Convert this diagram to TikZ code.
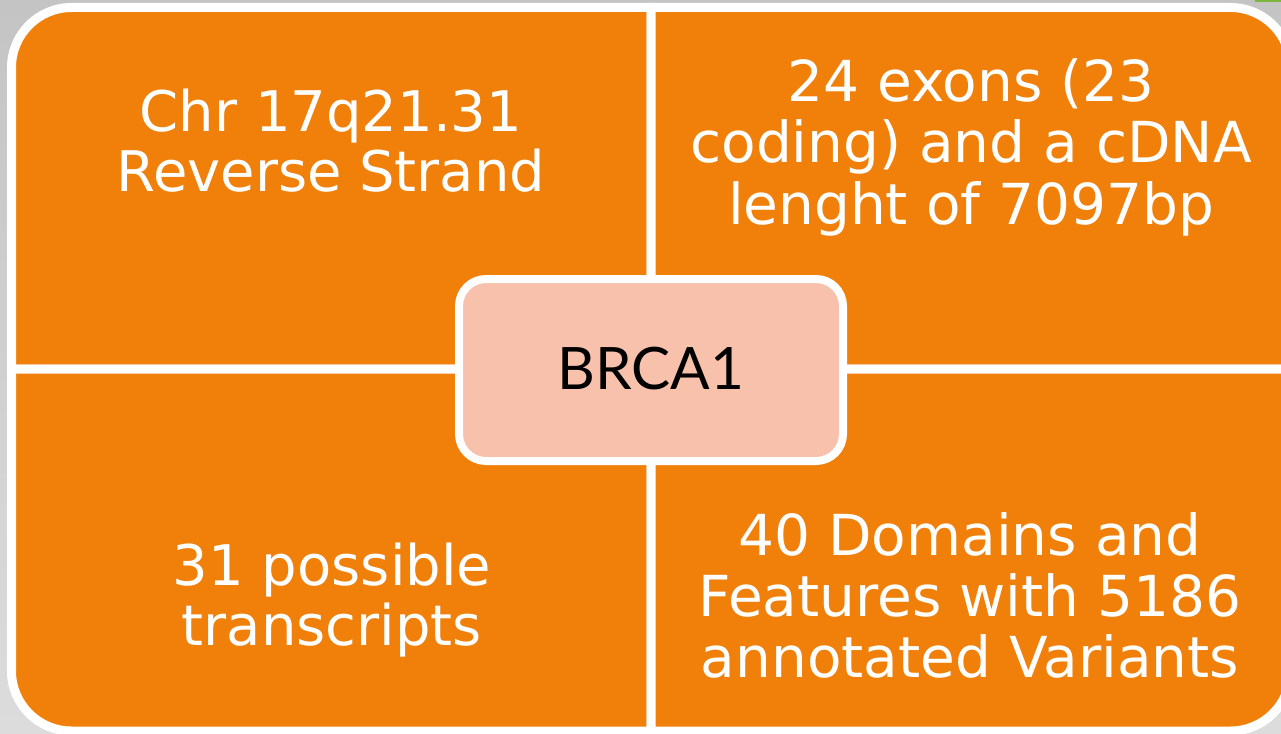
\documentclass[tikz,border=0pt]{standalone}
\usepackage{fontspec}
\setmainfont{DejaVu Sans}
\newfontfamily\labelfont{Lato}
\definecolor{quadorange}{RGB}{240,128,10}
\definecolor{hubpink}{RGB}{247,193,171}
\definecolor{bgtop}{RGB}{196,196,196}
\definecolor{bgbottom}{RGB}{220,220,220}
\definecolor{tabgreen}{RGB}{122,180,60}
\tikzset{
  quad/.style={fill=quadorange, draw=white, line width=9pt, line join=miter},
  quadtext/.style={anchor=base, inner sep=0pt, text=white},
  hub/.style={fill=hubpink, draw=white, line width=8pt, rounded corners=27pt,
    minimum width=384pt, minimum height=182pt, inner sep=0pt, text depth=4pt,
    font=\labelfont\fontsize{58.5}{62}\selectfont, text=black}
}
\newcommand{\quadsmall}{\fontsize{56}{58.3}\selectfont}
\newcommand{\quadlarge}{\fontsize{56.5}{61}\selectfont}
\begin{document}
\begin{tikzpicture}[x=1pt,y=-1pt]
  \useasboundingbox (0,0) rectangle (1281,733);
  \clip (0,0) rectangle (1281,733);
  % slide background
  \shade[top color=bgtop, bottom color=bgbottom] (0,0) rectangle (1281,733);
  \fill[tabgreen] (1255,0) rectangle (1281,2.5);
  % four quadrants, each with one rounded outer corner
  \draw[quad] (11.5,369) [rounded corners=60pt] -- (11.5,7.5) [sharp corners] -- (651,7.5) -- (651,369) -- cycle;
  \draw[quad] (651,7.5) [rounded corners=60pt] -- (1290.5,7.5) [sharp corners] -- (1290.5,369) -- (651,369) -- cycle;
  \draw[quad] (11.5,369) -- (651,369) -- (651,731) [rounded corners=60pt] -- (11.5,731) [sharp corners] -- cycle;
  \draw[quad] (651,369) -- (1290.5,369) [rounded corners=60pt] -- (1290.5,731) [sharp corners] -- (651,731) -- cycle;
  % quadrant captions
  \node[quadtext] (chrom) at (331,131.7)
    {\quadsmall\begin{tabular}[t]{@{}c@{}}Chr 17q21.31\\Reverse Strand\end{tabular}};
  \node[quadtext] (exons) at (971,101.7)
    {\quadlarge\begin{tabular}[t]{@{}c@{}}24 exons (23\\coding) and a cDNA\\lenght of 7097bp\end{tabular}};
  \node[quadtext] (transcripts) at (332,585)
    {\quadsmall\begin{tabular}[t]{@{}c@{}}31 possible\\transcripts\end{tabular}};
  \node[quadtext] (domains) at (970,555)
    {\quadlarge\begin{tabular}[t]{@{}c@{}}40 Domains and\\Features with 5186\\annotated Variants\end{tabular}};
  % central gene label
  \node[hub] (gene) at (651,370) {BRCA1};
\end{tikzpicture}
\end{document}
